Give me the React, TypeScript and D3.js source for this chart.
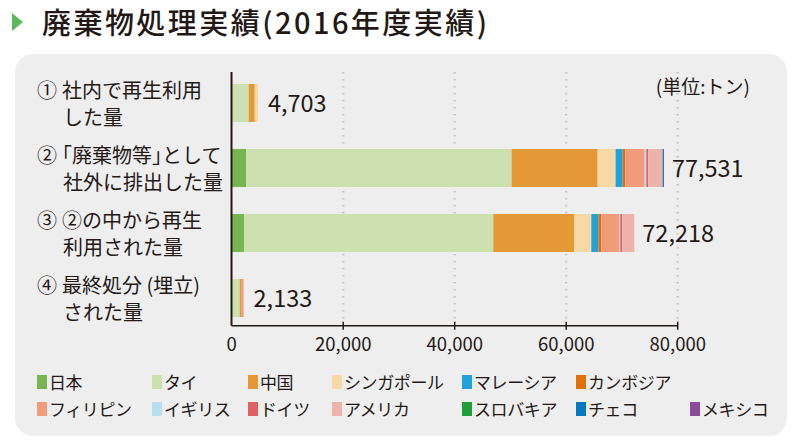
import React from "react";
import * as d3 from "d3";

const countries = ["日本", "タイ", "中国", "シンガポール", "マレーシア", "カンボジア", "フィリピン", "イギリス", "ドイツ", "アメリカ", "スロバキア", "チェコ", "メキシコ"];
const colors = ["#77b550", "#cde0b0", "#e59836", "#f8d8a4", "#1fa3da", "#e06f0c", "#f39a78", "#b6dff0", "#df6063", "#edb3ab", "#1f9e3a", "#0479c0", "#8c4a9a"];

const rowNums = ["①", "②", "③", "④"];
const rowLabels = [
  ["社内で再生利用", "した量"],
  ["｢廃棄物等｣として", "社外に排出した量"],
  ["②の中から再生", "利用された量"],
  ["最終処分 (埋立)", "された量"],
];
const totals = [4703, 77531, 72218, 2133];
// values per row, in country order
const row1 = [0, 3050, 1080, 573, 0, 0, 0, 0, 0, 0, 0, 0, 0];
const row2 = [2565, 47647, 15426, 3229, 1256, 484, 3462, 305, 359, 2565, 0, 233, 0];
const row3 = [2206, 44721, 14529, 3049, 1256, 538, 3229, 179, 359, 2152, 0, 0, 0];
const row4 = [0, 1435, 350, 0, 0, 0, 348, 0, 0, 0, 0, 0, 0];
const rows = [row1, row2, row3, row4];
const xTicks = [0, 20000, 40000, 60000, 80000];

const FONT = "'Noto Sans CJK JP', 'Noto Sans', sans-serif";
const TEXT = "#231815";

export default function App() {
  const x = d3.scaleLinear().domain([0, 80000]).range([231.7, 677.7]);
  const y = d3.scaleBand<number>().domain([0, 1, 2, 3]).range([84, 84 + 65 * 4 - 27]).paddingInner(27 / 65).paddingOuter(0);
  const fmt = d3.format(",");

  const legendX = [37, 152, 248, 332, 462, 576, 690];
  const legendItems = countries.map((c, i) => {
    const row = i < 6 ? 0 : 1;
    const col = i < 6 ? i : i - 6;
    return { c, color: colors[i], lx: legendX[col], ly: row === 0 ? 382 : 409 };
  });

  const axisY = 325.7;

  return (
    <svg width={804} height={444} style={{ position: "absolute", left: 0, top: 0, background: "#fff" }} fontFamily={FONT}>
      {/* title */}
      <path d="M12,13 L23,22 L12,31 Z" fill="#5cb85c" />
      <text x={42} y={34} fontSize={29} fill={TEXT} fontWeight={500} textLength={445} lengthAdjust="spacing">廃棄物処理実績(2016年度実績)</text>
      {/* panel */}
      <rect x={15} y={54} width={772} height={382} rx={18} fill="#eeeeee" />
      <text x={750} y={94} fontSize={19} fill={TEXT} textAnchor="end">(単位:トン)</text>

      {/* grid */}
      {xTicks.slice(1).map((t) => (
        <line key={t} x1={x(t)} x2={x(t)} y1={72} y2={322} stroke="#c8c8c8" strokeWidth={2.5} strokeDasharray="1.5,5.5" />
      ))}

      {/* bars */}
      {rows.map((vals, r) => {
        let acc = 0;
        return (
          <g key={r}>
            {vals.map((v, i) => {
              const x0 = x(acc);
              acc += v;
              if (v <= 0) return null;
              return <rect key={i} x={x0} y={y(r)} width={x(acc) - x0} height={y.bandwidth()} fill={colors[i]} />;
            })}
            <text x={x(totals[r]) + (r === 0 || r === 3 ? 10 : 8)} y={(y(r) as number) + y.bandwidth() / 2 + 8.5} fontSize={23.5} fill={TEXT}>
              {fmt(totals[r])}
            </text>
          </g>
        );
      })}

      {/* row labels */}
      {rowLabels.map((lines, r) => (
        <g key={r} fontSize={20} fill={TEXT}>
          <text x={37} y={(y(r) as number) + 13.5}>{rowNums[r]}</text>
          <text x={62} y={(y(r) as number) + 13.5}>{lines[0]}</text>
          <text x={63} y={(y(r) as number) + 41}>{lines[1]}</text>
        </g>
      ))}

      {/* axes */}
      <line x1={231.5} x2={231.5} y1={72} y2={axisY} stroke={TEXT} strokeWidth={2} />
      <line x1={231.5} x2={x(80000)} y1={axisY} y2={axisY} stroke={TEXT} strokeWidth={1.5} />
      {xTicks.map((t) => (
        <g key={t}>
          {t > 0 && <line x1={x(t)} x2={x(t)} y1={axisY - 4} y2={axisY + 4} stroke={TEXT} strokeWidth={1.5} />}
          <text x={x(t)} y={351} fontSize={18.5} fill={TEXT} textAnchor="middle">{fmt(t)}</text>
        </g>
      ))}

      {/* legend */}
      {legendItems.map((d) => (
        <g key={d.c}>
          <rect x={d.lx} y={d.ly - 7} width={10} height={14} fill={d.color} />
          <text x={d.lx + 12} y={d.ly + 6.5} fontSize={17} fill={TEXT} letterSpacing={-0.4}>{d.c}</text>
        </g>
      ))}
    </svg>
  );
}
